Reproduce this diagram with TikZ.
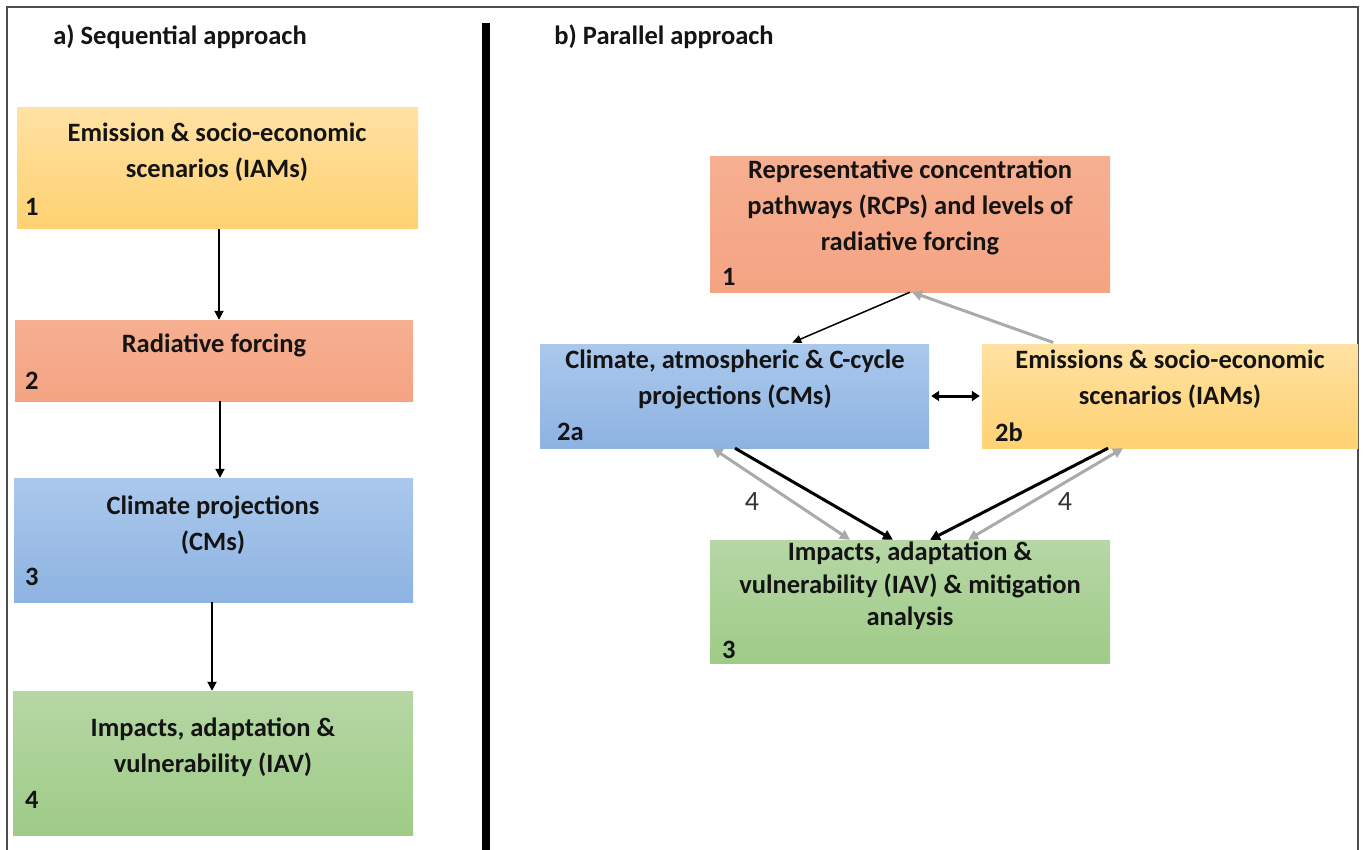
\documentclass[tikz,border=0pt]{standalone}
\usepackage{fontspec}
\setmainfont{Carlito}
\usetikzlibrary{arrows.meta}
\definecolor{ytop}{HTML}{FFE1A2}
\definecolor{ybot}{HTML}{FFD272}
\definecolor{stop}{HTML}{F6AF91}
\definecolor{sbot}{HTML}{F4A483}
\definecolor{btop}{HTML}{ABC8EC}
\definecolor{bbot}{HTML}{8DB3E2}
\definecolor{gtop}{HTML}{B6D7A5}
\definecolor{gbot}{HTML}{9FCB87}
\definecolor{arrgray}{HTML}{AAAAAA}
\tikzset{
  box/.style={draw=none, inner sep=0pt, minimum width=#1},
  ybox/.style={top color=ytop, bottom color=ybot},
  sbox/.style={top color=stop, bottom color=sbot},
  bbox/.style={top color=btop, bottom color=bbot},
  gbox/.style={top color=gtop, bottom color=gbot},
  txt/.style={font=\fontsize{26.5}{36}\selectfont\bfseries, align=center, inner sep=0pt, text=black!92},
  num/.style={font=\fontsize{26.5}{30}\selectfont\bfseries, inner sep=0pt, anchor=west, text=black!92},
  lab/.style={font=\fontsize{28}{30}\selectfont, inner sep=0pt, text=black!80},
  seqarrow/.style={draw=black, line width=1.8pt, -{Triangle[length=9pt,width=9pt]}},
  thinarrow/.style={draw=black, line width=1.5pt, -{Triangle[length=9pt,width=8pt]}},
  thickarrow/.style={draw=black, line width=3pt, -{Triangle[length=10pt,width=10pt]}},
  grayarrow/.style={draw=arrgray, line width=3pt, -{Triangle[length=10pt,width=10pt]}},
  graydouble/.style={draw=arrgray, line width=3pt, {Triangle[length=10pt,width=10pt]}-{Triangle[length=10pt,width=10pt]}},
  blackdouble/.style={draw=black, line width=3pt, {Triangle[length=8pt,width=10pt]}-{Triangle[length=8pt,width=10pt]}},
}
\begin{document}
\begin{tikzpicture}[x=1pt,y=-1pt]
\useasboundingbox (0,0) rectangle (1364,850);
\fill[white] (0,0) rectangle (1364,850);
% frame
\draw[draw=black!70, line width=1.5pt] (7,870) -- (7,7) -- (1358,7) -- (1358,870);
% divider
\draw[line width=8pt] (486,23) -- (486,860);
% titles
\node[txt] (ta) at (180,37) {a) Sequential approach};
\node[txt] (tb) at (664,37) {b) Parallel approach};

% left column
\node[box=401pt, minimum height=121pt, ybox] (L1) at (217.5,168.5) {};
\node[box=398pt, minimum height=81pt, sbox] (L2) at (214,360.5) {};
\node[box=399pt, minimum height=124pt, bbox] (L3) at (213.5,540) {};
\node[box=400pt, minimum height=144pt, gbox] (L4) at (213,763) {};
\node[txt] (L1t) at (217,152) {Emission \& socio-economic\\scenarios (IAMs)};
\node[txt] (L2t) at (214,345) {Radiative forcing};
\node[txt] (L3t) at (213,525) {Climate projections\\(CMs)};
\node[txt] (L4t) at (213,747.5) {Impacts, adaptation \&\\vulnerability (IAV)};
\node[num] (L1n) at (25,207) {1};
\node[num] (L2n) at (25,381) {2};
\node[num] (L3n) at (25,577) {3};
\node[num] (L4n) at (25,800) {4};
\draw[seqarrow] ([xshift=1.5pt]L1.south) -- ([xshift=1.5pt]L1.south |- L2.north);
\draw[seqarrow] ([xshift=6pt]L2.south) -- ([xshift=6pt]L2.south |- L3.north);
\draw[seqarrow] ([xshift=-1.5pt]L3.south) -- ([xshift=-1.5pt]L3.south |- L4.north);

% right column
\node[box=400pt, minimum height=135pt, sbox] (R1) at (910,224.5) {};
\node[box=389pt, minimum height=104pt, bbox] (A) at (734.5,396) {};
\node[box=376pt, minimum height=104pt, ybox] (B) at (1170,396) {};
\node[box=400pt, minimum height=123pt, gbox] (G) at (910,601.5) {};
\node[txt] (R1t) at (910,207) {Representative concentration\\pathways (RCPs) and levels of\\radiative forcing};
\node[txt] (At) at (735,379) {Climate, atmospheric \& C-cycle\\projections (CMs)};
\node[txt] (Bt) at (1170,379) {Emissions \& socio-economic\\scenarios (IAMs)};
\node[txt, font=\fontsize{26.5}{32.5}\selectfont\bfseries] (Gt) at (910,586) {Impacts, adaptation \&\\vulnerability (IAV) \& mitigation\\analysis};
\node[num] (R1n) at (722,277) {1};
\node[num] (An) at (557,432) {2a};
\node[num] (Bn) at (995,432) {2b};
\node[num] (Gn) at (722,650) {3};
\node[lab] (l4a) at (752,502) {4};
\node[lab] (l4b) at (1065,502) {4};

\draw[thinarrow, shorten >=3pt] (R1.south) -- ([xshift=55pt]A.north);
\draw[grayarrow, shorten <=4pt] ([xshift=-113pt]B.north) -- ([xshift=2pt]R1.south);
\draw[blackdouble, shorten <=2pt, shorten >=2pt] (A.east) -- (B.west);
\draw[graydouble] ([xshift=-22pt]A.south) -- ([xshift=-60pt]G.north);
\draw[thickarrow] ([xshift=0.5pt]A.south) -- ([xshift=-17pt]G.north);
\draw[thickarrow] ([xshift=-62pt]B.south) -- ([xshift=20pt]G.north);
\draw[graydouble] ([xshift=-47pt]B.south) -- ([xshift=58pt]G.north);
\end{tikzpicture}
\end{document}
